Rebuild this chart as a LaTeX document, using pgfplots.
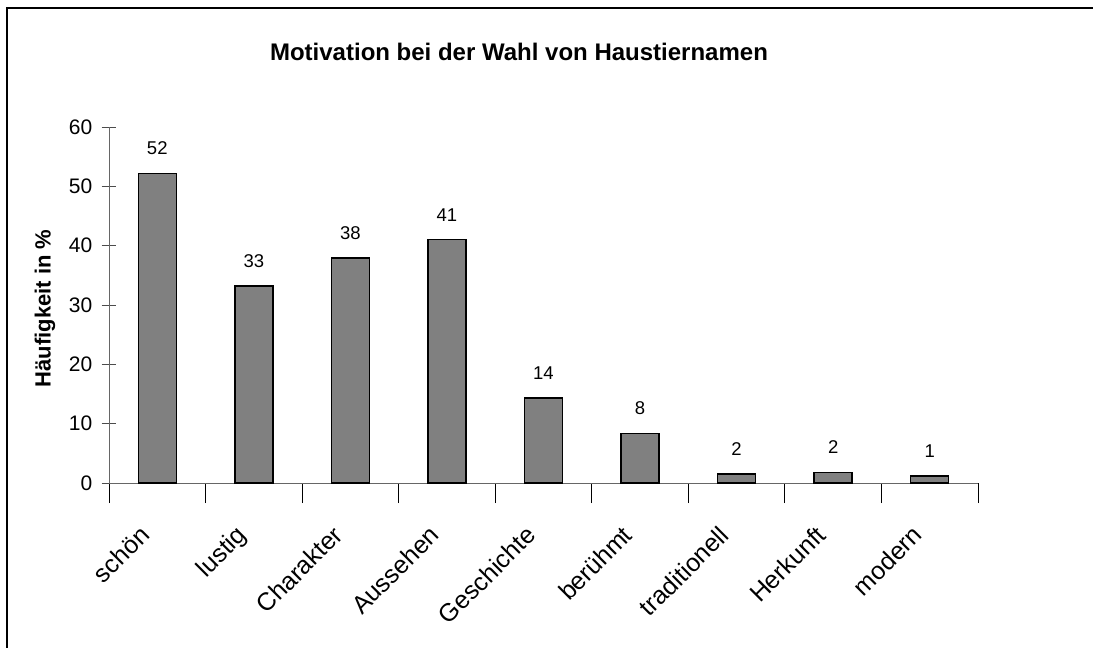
\documentclass[border=0pt]{standalone}
\usepackage{fontspec}
\setmainfont{Liberation Sans}
\usepackage{pgfplots}
\pgfplotsset{compat=1.18}
\begin{document}
\begin{tikzpicture}[x=1pt,y=1pt]
\useasboundingbox (0,0) rectangle (1093,648);
\fill[white] (0,0) rectangle (1093,648);
\draw[black,line width=1.2pt] (7,-5) -- (7,640) -- (1100,640);
\node[font=\bfseries\fontsize{24}{29}\selectfont] at (519,596) {Motivation bei der Wahl von Haustiernamen};
\coordinate (A) at (109,165);
\begin{axis}[
  at={(A)}, anchor=south west,
  scale only axis, width=869pt, height=356pt,
  xmin=-0.5, xmax=8.5, ymin=0, ymax=60,
  axis x line=bottom, axis y line=left,
  axis line style={-, draw=black!60, line width=0.9pt},
  xtick={0,...,8},
  xticklabels={schön,lustig,Charakter,Aussehen,Geschichte,berühmt,traditionell,Herkunft,modern},
  major x tick style={draw=none},
  minor xtick={-0.5,0.5,...,8.5},
  minor x tick style={black, line width=0.8pt},
  minor tick length=20pt,
  ytick={0,10,...,60},
  y tick style={black!70, line width=0.8pt},
  major tick length=15pt,
  tick align=center,
  /pgf/number format/assume math mode=true,
  yticklabel style={font=\fontsize{21}{25}\selectfont, inner sep=0pt, xshift=-9pt},
  xticklabel style={font=\fontsize{25}{30}\selectfont, inner sep=0pt, xshift=-6pt, yshift=-39pt, rotate=45, anchor=base east},
  every axis y label/.style={at={(-64pt,0.49*356pt)}, rotate=90, anchor=center, font=\fontsize{22}{26}\selectfont},
  ylabel={\bfseries Häufigkeit in \%},
  ybar, bar width=38pt,
  nodes near coords,
  point meta=y,
  nodes near coords style={/pgf/number format/fixed, /pgf/number format/precision=0, font=\fontsize{18.5}{22}\selectfont, anchor=south, inner sep=0pt, yshift=18pt},
  clip=false,
]
\addplot[fill=black!50, draw=black, line width=1.4pt] coordinates {
(0,52.2) (1,33.2) (2,37.9) (3,41.0) (4,14.3) (5,8.3) (6,1.5) (7,1.8) (8,1.2)
};
\end{axis}
\end{tikzpicture}
\end{document}
